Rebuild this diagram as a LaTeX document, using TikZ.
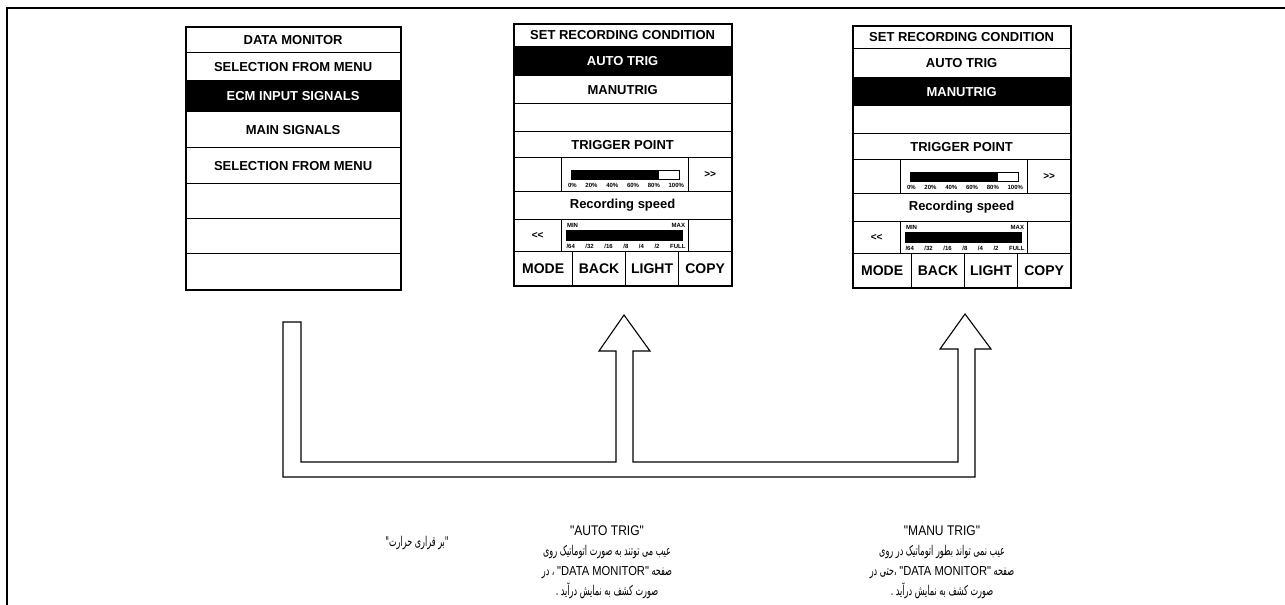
\documentclass[tikz,border=0pt]{standalone}
\usepackage{fontspec}
\setmainfont{Liberation Sans}
\newfontfamily\narrowfont[FakeStretch=0.86]{Liberation Sans}
\newfontfamily\arabicfont[Script=Arabic, FakeStretch=0.6]{DejaVu Sans}
\TeXXeTstate=1
\usetikzlibrary{positioning,calc}

\begin{document}
\begin{tikzpicture}[x=1pt, y=-1pt,
    cellbox/.style 2 args={draw, line width=1.2pt, anchor=north west, inner sep=0pt, minimum width=#1, minimum height=#2, font=\fontsize{13}{15}\selectfont\bfseries},
    picked/.style={fill=black, text=white},
    btn/.style={font=\fontsize{14}{16}\selectfont\bfseries},
    arrowtxt/.style={font=\fontsize{10}{12}\selectfont\bfseries},
    screenbox/.style 2 args={draw, line width=2pt, anchor=north west, inner sep=0pt, minimum width=#1, minimum height=#2},
    scaletxt/.style={inner sep=0pt, font=\fontsize{6}{7}\selectfont\bfseries},
    flow/.style={line width=1.1pt, line join=miter},
    note/.style={align=center, inner sep=0pt, font=\fontsize{13.5}{19.8}\arabicfont}
]
\useasboundingbox (0,0) rectangle (1285,605);
\draw[line width=2.2pt] (1285,8) -- (7,8) -- (7,605);

\node[cellbox={215}{26}] (dm) at (185,26) {DATA MONITOR};
\node[cellbox={215}{28}] (sel) at (185,52) {SELECTION FROM MENU};
\node[cellbox={215}{31}, picked] (ecm) at (185,80) {ECM INPUT SIGNALS};
\node[cellbox={215}{36}] (main) at (185,111) {MAIN SIGNALS};
\node[cellbox={215}{36}] (sel2) at (185,147) {SELECTION FROM MENU};
\node[cellbox={215}{35}] (e1) at (185,183) {};
\node[cellbox={215}{35}] (e2) at (185,218) {};
\node[cellbox={215}{36}] (e3) at (185,253) {};
\node[screenbox={215}{263}] (menu) at (185,26) {};

\begin{scope}[shift={(513,23)}]
\node[cellbox={218}{23}] (a-set) at (0,0) {SET RECORDING CONDITION};
\node[cellbox={218}{29}, picked] (a-auto) at (0,23) {AUTO TRIG};
\node[cellbox={218}{28}] (a-manu) at (0,52) {MANUTRIG};
\node[cellbox={218}{28}] (a-blank) at (0,80) {};
\node[cellbox={218}{26}] (a-trig) at (0,108) {TRIGGER POINT};
\node[cellbox={48}{34}] (a-tl) at (0,134) {};
\node[cellbox={127}{34}] (a-tbar) at (48,134) {};
\node[cellbox={43}{34}, arrowtxt] (a-next) at (175,134) {>{}>};
\node[cellbox={218}{28}] (a-rec) at (0,168) {Recording speed};
\node[cellbox={48}{32}, arrowtxt] (a-prev) at (0,196) {<{}<};
\node[cellbox={127}{32}] (a-sbar) at (48,196) {};
\node[cellbox={43}{32}] (a-sr) at (175,196) {};
\node[cellbox={59}{34}, btn] (a-mode) at (0,228) {MODE};
\node[cellbox={53}{34}, btn] (a-back) at (59,228) {BACK};
\node[cellbox={53}{34}, btn] (a-light) at (112,228) {LIGHT};
\node[cellbox={53}{34}, btn] (a-copy) at (165,228) {COPY};
\node[screenbox={218}{262}] (a-screen) at (0,0) {};
\fill (58,147) rectangle (146,156);
\draw[line width=0.8pt] (58,147) rectangle (166,156);
\node[scaletxt] (a-pct) at (113,162) {\makebox[116pt][s]{0\% 20\% 40\% 60\% 80\% 100\%}};
\node[scaletxt] (a-mm) at (113,202) {\makebox[118pt][s]{MIN MAX}};
\fill (53,207) rectangle (170,218);
\node[scaletxt] (a-div) at (113,223) {\makebox[119pt][s]{/64 /32 /16 /8 /4 /2 FULL}};
\end{scope}

\begin{scope}[shift={(852,25)}]
\node[cellbox={218}{23}] (b-set) at (0,0) {SET RECORDING CONDITION};
\node[cellbox={218}{29}] (b-auto) at (0,23) {AUTO TRIG};
\node[cellbox={218}{28}, picked] (b-manu) at (0,52) {MANUTRIG};
\node[cellbox={218}{28}] (b-blank) at (0,80) {};
\node[cellbox={218}{26}] (b-trig) at (0,108) {TRIGGER POINT};
\node[cellbox={48}{34}] (b-tl) at (0,134) {};
\node[cellbox={127}{34}] (b-tbar) at (48,134) {};
\node[cellbox={43}{34}, arrowtxt] (b-next) at (175,134) {>{}>};
\node[cellbox={218}{28}] (b-rec) at (0,168) {Recording speed};
\node[cellbox={48}{32}, arrowtxt] (b-prev) at (0,196) {<{}<};
\node[cellbox={127}{32}] (b-sbar) at (48,196) {};
\node[cellbox={43}{32}] (b-sr) at (175,196) {};
\node[cellbox={59}{34}, btn] (b-mode) at (0,228) {MODE};
\node[cellbox={53}{34}, btn] (b-back) at (59,228) {BACK};
\node[cellbox={53}{34}, btn] (b-light) at (112,228) {LIGHT};
\node[cellbox={53}{34}, btn] (b-copy) at (165,228) {COPY};
\node[screenbox={218}{262}] (b-screen) at (0,0) {};
\fill (58,147) rectangle (146,156);
\draw[line width=0.8pt] (58,147) rectangle (166,156);
\node[scaletxt] (b-pct) at (113,162) {\makebox[116pt][s]{0\% 20\% 40\% 60\% 80\% 100\%}};
\node[scaletxt] (b-mm) at (113,202) {\makebox[118pt][s]{MIN MAX}};
\fill (53,207) rectangle (170,218);
\node[scaletxt] (b-div) at (113,223) {\makebox[119pt][s]{/64 /32 /16 /8 /4 /2 FULL}};
\end{scope}

\draw[flow] (283,322) -- ++(18,0) -- ++(0,140) -- (616,462) -- ++(0,-111) -- ++(-17,0) -- (624,315) -- (650,351) -- ++(-17,0) -- ++(0,111) -- (958,462) -- ++(0,-113) -- ++(-18,0) -- (965,314) -- (991,349) -- ++(-16,0) -- (975,477) -- (283,477) -- cycle;

\node[note] (heat) at (417,543) {\beginR"بر قراری حرارت"\endR};
\node[note, anchor=north] (autonote) at (607,526) {{\fontsize{14}{19.8}\narrowfont"AUTO TRIG"}\\
  \beginR عیب می توتند به صورت اتوماتیک روی\endR\\
  \beginR صفحه \beginL{\fontsize{13}{15}\narrowfont"DATA MONITOR"}\endL{} ، در\endR\\
  \beginR صورت کشف به نمایش درآید .\endR};
\node[note, anchor=north] (manunote) at (942,526) {{\fontsize{14}{19.8}\narrowfont"MANU TRIG"}\\
  \beginR عیب نمی تواند بطور اتوماتیک در روی\endR\\
  \beginR صفحه \beginL{\fontsize{13}{15}\narrowfont"DATA MONITOR"}\endL{} ،حتی در\endR\\
  \beginR صورت کشف به نمایش درآید .\endR};
\end{tikzpicture}
\end{document}
